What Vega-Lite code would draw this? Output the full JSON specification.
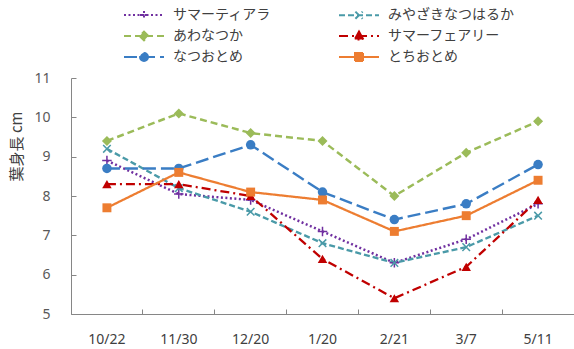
{
  "$schema": "https://vega.github.io/schema/vega-lite/v6.json",
  "width": 503,
  "height": 236,
  "autosize": {"type": "none"},
  "padding": {"left": 71, "top": 78, "right": 0, "bottom": 35},
  "background": "white",
  "config": {
    "view": {"stroke": null},
    "font": "Noto Sans CJK JP"
  },
  "resolve": {"legend": {"color": "independent", "stroke": "independent", "strokeDash": "independent", "shape": "independent", "strokeWidth": "independent"}},
  "data": {
    "values": [
      {"d": "10/22", "v": "サマーティアラ", "y": 8.9},
      {"d": "11/30", "v": "サマーティアラ", "y": 8.05},
      {"d": "12/20", "v": "サマーティアラ", "y": 7.9},
      {"d": "1/20", "v": "サマーティアラ", "y": 7.1},
      {"d": "2/21", "v": "サマーティアラ", "y": 6.3},
      {"d": "3/7", "v": "サマーティアラ", "y": 6.9},
      {"d": "5/11", "v": "サマーティアラ", "y": 7.8},
      {"d": "10/22", "v": "みやざきなつはるか", "y": 9.2},
      {"d": "11/30", "v": "みやざきなつはるか", "y": 8.2},
      {"d": "12/20", "v": "みやざきなつはるか", "y": 7.6},
      {"d": "1/20", "v": "みやざきなつはるか", "y": 6.8},
      {"d": "2/21", "v": "みやざきなつはるか", "y": 6.3},
      {"d": "3/7", "v": "みやざきなつはるか", "y": 6.7},
      {"d": "5/11", "v": "みやざきなつはるか", "y": 7.5},
      {"d": "10/22", "v": "あわなつか", "y": 9.4},
      {"d": "11/30", "v": "あわなつか", "y": 10.1},
      {"d": "12/20", "v": "あわなつか", "y": 9.6},
      {"d": "1/20", "v": "あわなつか", "y": 9.4},
      {"d": "2/21", "v": "あわなつか", "y": 8.0},
      {"d": "3/7", "v": "あわなつか", "y": 9.1},
      {"d": "5/11", "v": "あわなつか", "y": 9.9},
      {"d": "10/22", "v": "サマーフェアリー", "y": 8.3},
      {"d": "11/30", "v": "サマーフェアリー", "y": 8.3},
      {"d": "12/20", "v": "サマーフェアリー", "y": 8.0},
      {"d": "1/20", "v": "サマーフェアリー", "y": 6.4},
      {"d": "2/21", "v": "サマーフェアリー", "y": 5.4},
      {"d": "3/7", "v": "サマーフェアリー", "y": 6.2},
      {"d": "5/11", "v": "サマーフェアリー", "y": 7.9},
      {"d": "10/22", "v": "なつおとめ", "y": 8.7},
      {"d": "11/30", "v": "なつおとめ", "y": 8.7},
      {"d": "12/20", "v": "なつおとめ", "y": 9.3},
      {"d": "1/20", "v": "なつおとめ", "y": 8.1},
      {"d": "2/21", "v": "なつおとめ", "y": 7.4},
      {"d": "3/7", "v": "なつおとめ", "y": 7.8},
      {"d": "5/11", "v": "なつおとめ", "y": 8.8},
      {"d": "10/22", "v": "とちおとめ", "y": 7.7},
      {"d": "11/30", "v": "とちおとめ", "y": 8.6},
      {"d": "12/20", "v": "とちおとめ", "y": 8.1},
      {"d": "1/20", "v": "とちおとめ", "y": 7.9},
      {"d": "2/21", "v": "とちおとめ", "y": 7.1},
      {"d": "3/7", "v": "とちおとめ", "y": 7.5},
      {"d": "5/11", "v": "とちおとめ", "y": 8.4}
    ]
  },
  "encoding": {
    "x": {
      "field": "d", "type": "ordinal",
      "sort": ["10/22", "11/30", "12/20", "1/20", "2/21", "3/7", "5/11"],
      "scale": {"type": "band", "paddingInner": 0, "paddingOuter": 0},
      "axis": {
        "title": null, "labelAngle": 0, "bandPosition": 0,
        "domainColor": "#868686", "tickColor": "#868686", "tickSize": -5,
        "labelFontSize": 14, "labelColor": "#404040", "labelPadding": 23,
        "labelFont": "Noto Sans"
      }
    },
    "y": {
      "field": "y", "type": "quantitative",
      "scale": {"domain": [5, 11], "nice": false, "zero": false},
      "axis": {
        "values": [5, 6, 7, 8, 9, 10, 11], "grid": false,
        "title": "葉身長 cm", "titleFontSize": 15, "titleFontWeight": "normal",
        "titleColor": "#404040", "titleX": -55, "titleY": 68, "titleBaseline": "middle",
        "domainColor": "#868686", "tickColor": "#868686", "tickSize": -5,
        "labelFontSize": 14, "labelColor": "#595959", "labelPadding": 26,
        "labelFont": "Noto Sans"
      }
    }
  },
  "layer": [
    {
      "mark": {"type": "line"},
      "encoding": {
        "color": {"field": "v", "type": "nominal", "legend": null, "scale": {
          "domain": ["サマーティアラ", "あわなつか", "なつおとめ", "みやざきなつはるか", "サマーフェアリー", "とちおとめ"],
          "range": ["#7030A0", "#9BBB59", "#3A7DC4", "#4A9AA8", "#C00000", "#ED7D31"]
        }},
        "strokeDash": {
          "field": "v", "type": "nominal", "legend": null,
          "scale": {
            "domain": ["サマーティアラ", "あわなつか", "なつおとめ", "みやざきなつはるか", "サマーフェアリー", "とちおとめ"],
            "range": [[2, 2.5], [7, 4], [13, 5], [6, 3], [9, 4, 2, 4], [1, 0]]
          }
        },
        "strokeWidth": {
          "field": "v", "type": "nominal", "legend": null,
          "scale": {
            "domain": ["サマーティアラ", "あわなつか", "なつおとめ", "みやざきなつはるか", "サマーフェアリー", "とちおとめ"],
            "range": [2.5, 2.25, 2.75, 1.75, 2, 3]
          }
        }
      }
    },
    {
      "transform": [{"filter": {"field": "v", "equal": "サマーティアラ"}}],
      "mark": {"type": "point", "filled": false, "size": 90, "strokeWidth": 1.5, "opacity": 1, "shape": "M0,-1V1M-1,0H1"},
      "encoding": {"color": {"field": "v", "type": "nominal", "legend": null}}
    },
    {
      "transform": [{"filter": {"field": "v", "equal": "みやざきなつはるか"}}],
      "mark": {"type": "point", "filled": false, "size": 90, "strokeWidth": 1.5, "opacity": 1, "shape": "M-0.8,-0.8L0.8,0.8M-0.8,0.8L0.8,-0.8"},
      "encoding": {"color": {"field": "v", "type": "nominal", "legend": null}}
    },
    {
      "transform": [{"filter": {"field": "v", "equal": "あわなつか"}}],
      "mark": {"type": "point", "filled": true, "size": 100, "opacity": 1, "shape": "diamond"},
      "encoding": {"color": {"field": "v", "type": "nominal", "legend": null}}
    },
    {
      "transform": [{"filter": {"field": "v", "equal": "サマーフェアリー"}}],
      "mark": {"type": "point", "filled": true, "size": 90, "opacity": 1, "shape": "triangle-up"},
      "encoding": {"color": {"field": "v", "type": "nominal", "legend": null}}
    },
    {
      "transform": [{"filter": {"field": "v", "equal": "なつおとめ"}}],
      "mark": {"type": "point", "filled": true, "size": 90, "opacity": 1, "shape": "circle"},
      "encoding": {"color": {"field": "v", "type": "nominal", "legend": null}}
    },
    {
      "transform": [{"filter": {"field": "v", "equal": "とちおとめ"}}],
      "mark": {"type": "point", "filled": true, "size": 80, "opacity": 1, "shape": "square"},
      "encoding": {"color": {"field": "v", "type": "nominal", "legend": null}}
    },
    {
      "transform": [{"filter": "false"}],
      "mark": {"type": "point", "filled": true, "opacity": 1},
      "encoding": {
        "color": {
          "field": "v", "type": "nominal",
          "legend": {
            "title": null, "orient": "none", "legendX": 66, "legendY": -70,
            "columns": 2, "columnPadding": 64, "rowPadding": 4,
            "labelFontSize": 14, "labelColor": "#404040", "labelOffset": 22,
            "symbolSize": 64, "symbolStrokeWidth": 2, "symbolOpacity": 1
          }
        },
        "stroke": {"field": "v", "type": "nominal", "scale": {
          "domain": ["サマーティアラ", "あわなつか", "なつおとめ", "みやざきなつはるか", "サマーフェアリー", "とちおとめ"],
          "range": ["#7030A0", "#9BBB59", "#3A7DC4", "#4A9AA8", "#C00000", "#ED7D31"]
        }},
        "strokeDash": {"field": "v", "type": "nominal"},
        "shape": {
          "field": "v", "type": "nominal",
          "scale": {
            "domain": ["サマーティアラ", "あわなつか", "なつおとめ", "みやざきなつはるか", "サマーフェアリー", "とちおとめ"],
            "range": [
              "M-5,0H5M0,-1V1M-1,0H1",
              "M-5,0H5M0,-1.1L1.1,0L0,1.1L-1.1,0Z",
              "M-5,0H5M1,0A1,1 0 1,1 -1,0A1,1 0 1,1 1,0Z",
              "M-5,0H5M-0.9,-0.9L0.9,0.9M-0.9,0.9L0.9,-0.9",
              "M-5,0H5M0,-1.1L1.1,0.9L-1.1,0.9Z",
              "M-5,0H5M-1,-1H1V1H-1Z"
            ]
          }
        }
      }
    }
  ]
}
